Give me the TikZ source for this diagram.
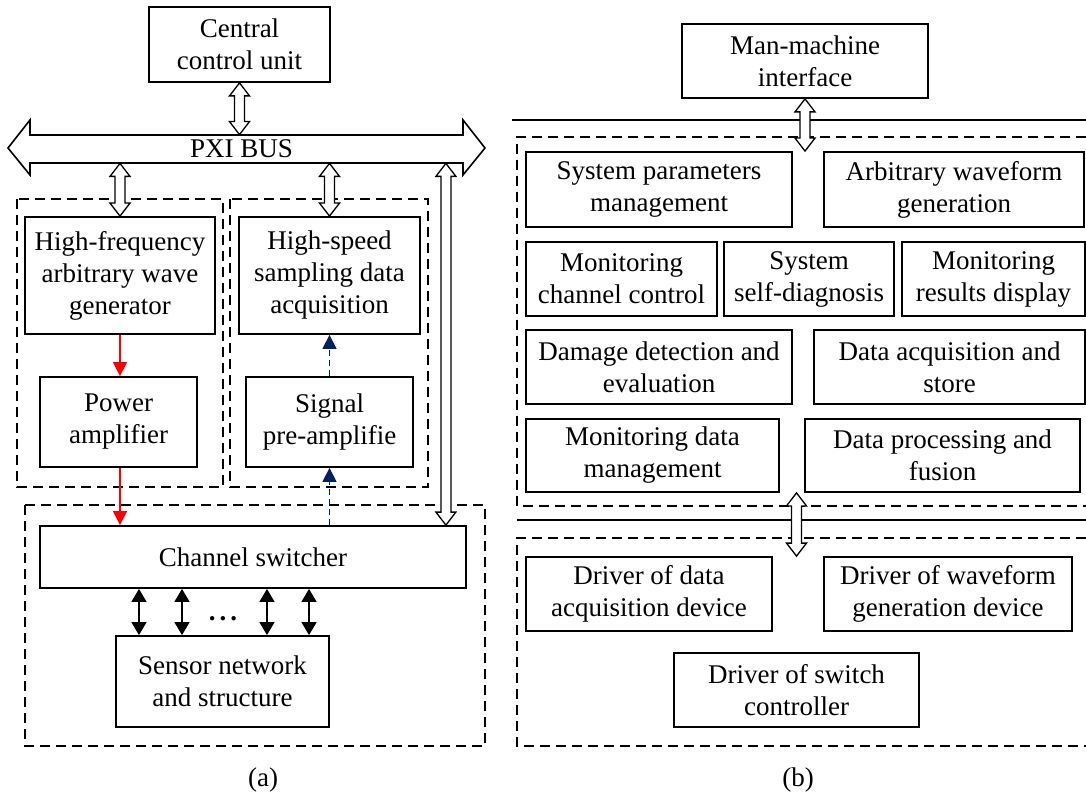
\documentclass[tikz,border=0pt]{standalone}
\usepackage{fontspec}
\setmainfont{Liberation Serif}
\usetikzlibrary{arrows.meta,calc}
\definecolor{navy}{RGB}{0,32,96}

\newcommand{\hollowarrow}[2]{%
  \draw[fill=white, line width=0.65pt] let \p1=(#1), \p2=(#2) in
    (\x1,\y1) -- (\x1+5pt,\y1-6.5pt) -- (\x1+2.5pt,\y1-6.5pt) -- (\x1+2.5pt,\y2+6.5pt)
    -- (\x1+5pt,\y2+6.5pt) -- (\x1,\y2) -- (\x1-5pt,\y2+6.5pt) -- (\x1-2.5pt,\y2+6.5pt)
    -- (\x1-2.5pt,\y1-6.5pt) -- (\x1-5pt,\y1-6.5pt) -- cycle;}

\begin{document}
\begin{tikzpicture}[x=0.5pt,y=-0.5pt,
	every node/.style={font=\fontsize{13.5}{16}\selectfont},
	blk/.style={draw, line width=0.9pt, align=center, inner sep=0pt},
	grp/.style={line width=0.8pt, dash pattern=on 5pt off 3pt},
	sig/.style={red, line width=0.7pt, -{Triangle[length=7pt,width=7pt]}},
	fb/.style={navy, line width=0.7pt, dash pattern=on 3pt off 2pt, -{Triangle[length=7pt,width=7pt]}},
	link/.style={line width=0.8pt, {Triangle[length=6.5pt,width=7.5pt]}-{Triangle[length=6.5pt,width=7.5pt]}}]
\useasboundingbox (0,0) rectangle (1086,796);

% (a) hardware
\node[blk, minimum width=90.5pt, minimum height=37.5pt] (ccu) at (239.5,44.5) {Central\\control unit};
\draw[line width=0.8pt] (30,135) -- (463,135) -- (463,120) -- (485,148) -- (463,175) -- (463,163)
	-- (30,163) -- (30,175) -- (8,148) -- (30,120) -- cycle;
\node[inner sep=0pt, minimum width=216.5pt, minimum height=14pt] (bus) at (241.5,149) {PXI BUS};

\draw[grp] (17,199) rectangle (223,487);
\draw[grp] (230,199) rectangle (428,487);
\draw[grp] (25,505) rectangle (485,746);

\node[blk, minimum width=95pt, minimum height=58.5pt] (hf) at (120,275.5) {High-frequency\\arbitrary wave\\generator};
\node[blk, minimum width=90.5pt, minimum height=58.5pt] (hs) at (329.5,275.5) {High-speed\\sampling data\\acquisition};
\node[blk, minimum width=78.5pt, minimum height=45pt] (pa) at (118.5,422) {Power\\amplifier};
\node[blk, minimum width=83.5pt, minimum height=45pt] (sp) at (329.5,422) {Signal\\pre-amplifie};
\node[blk, minimum width=213pt, minimum height=31pt] (cs) at (253,557) {Channel switcher};
\node[blk, minimum width=106.5pt, minimum height=45.5pt] (sn) at (222.5,681.5) {Sensor network\\and structure};
\node (dots) at (223,619) {\textbf{.\kern2pt.\kern2pt.}};

\coordinate (csin) at ($(cs.north east)+(-21,0)$);
\hollowarrow{ccu.south}{ccu.south |- bus.north}
\hollowarrow{bus.south -| hf.north}{hf.north}
\hollowarrow{bus.south -| hs.north}{hs.north}
\hollowarrow{bus.south -| csin}{csin}

\draw[sig] (hf.south) -- (hf.south |- pa.north);
\draw[sig] (hf.south |- pa.south) -- (hf.south |- cs.north);
\draw[fb] (sp.north) -- (sp.north |- hs.south);
\draw[fb] (sp.south |- cs.north) -- (sp.south);
\foreach \xx in {139,182,267,309}
	\draw[link] (\xx,0 |- cs.south) -- (\xx,0 |- sn.north);
\node (capa) at (263,780) {(a)};

% (b) software
\node[blk, minimum width=123pt, minimum height=37pt] (mmi) at (805,61) {Man-machine\\interface};
\draw[line width=0.8pt] (512,120) -- (1086,120);
\draw[grp] (1086,137) -| (517,506) -- (1086,506);
\draw[line width=0.8pt] (517,520) -- (1086,520);
\draw[grp] (1086,538) -| (517,746) -- (1086,746);

\node[blk, minimum width=133pt, minimum height=37.5pt] (spm) at (659,189.5) {System parameters\\management};
\node[blk, minimum width=130pt, minimum height=37.5pt] (awg) at (954,189.5) {Arbitrary waveform\\generation};
\node[blk, minimum width=95.5pt, minimum height=37pt] (mcc) at (621.5,279) {Monitoring\\channel control};
\node[blk, minimum width=85pt, minimum height=37pt] (ssd) at (809,279) {System\\self-diagnosis};
\node[blk, minimum width=91.5pt, minimum height=37pt] (mrd) at (993.5,279) {Monitoring\\results display};
\node[blk, minimum width=133pt, minimum height=37pt] (dde) at (659,367) {Damage detection and\\evaluation};
\node[blk, minimum width=135.5pt, minimum height=37pt] (das) at (949.5,367) {Data acquisition and\\store};
\node[blk, minimum width=126.5pt, minimum height=36.5pt] (mdm) at (652.5,455.5) {Monitoring data\\management};
\node[blk, minimum width=137.5pt, minimum height=36.5pt] (dpf) at (942.5,455.5) {Data processing and\\fusion};
\node[blk, minimum width=123pt, minimum height=37pt] (ddad) at (649,594) {Driver of data\\acquisition device};
\node[blk, minimum width=124pt, minimum height=37pt] (dwgd) at (948,594) {Driver of waveform\\generation device};
\node[blk, minimum width=122.5pt, minimum height=37pt] (dsc) at (796.5,690) {Driver of switch\\controller};

\hollowarrow{mmi.south}{mmi.south |- spm.north}
\hollowarrow{dsc.north |- mdm.south}{dsc.north |- ddad.north}
\node (capb) at (798,780) {(b)};
\end{tikzpicture}
\end{document}
